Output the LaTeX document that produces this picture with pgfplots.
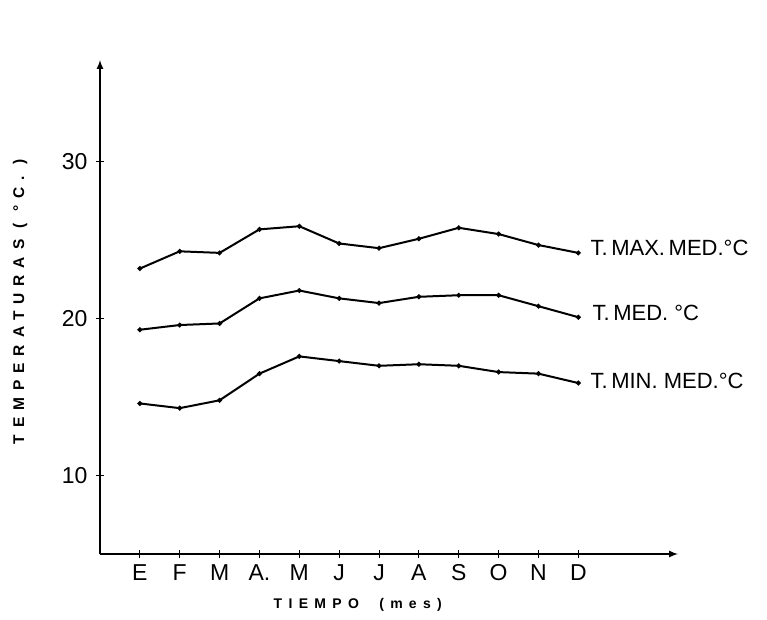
\documentclass[border=0pt]{standalone}
\usepackage{fontspec}
\setmainfont{Liberation Sans}
\newfontfamily\spaced[LetterSpace=45]{Liberation Sans}
\usepackage{pgfplots}
\pgfplotsset{compat=1.18}
\begin{document}
\begin{tikzpicture}
\path[use as bounding box] (-100pt,-66pt) rectangle (667pt,554pt);
\begin{axis}[
  at={(0,0)}, anchor=south west,
  scale only axis, width=578pt, height=494pt,
  xmin=-1, xmax=13.5, ymin=5, ymax=36.5,
  axis x line=bottom, axis y line=left,
  axis line style={line width=2pt, -latex},
  xtick={0,...,11},
  xticklabels={E,F,M,A.,M,J,J,A,S,O,N,D},
  ytick={10,20,30},
  tick style={black, line width=1pt},
  major tick length=8pt, tick align=center,
  /pgf/number format/assume math mode=true,
  tick label style={font=\fontsize{23}{23}\selectfont},
  xticklabel style={yshift=-3pt},
  yticklabel style={xshift=-5pt},
  xlabel={\spaced\bfseries TIEMPO\ \ (mes)},
  xlabel style={at={(axis description cs:0.446,-0.103)}, anchor=center, font=\fontsize{14}{14}\selectfont},
  ylabel={\spaced\bfseries TEMPERATURAS ( °C. )},
  ylabel style={at={(axis description cs:-0.138,0.51)}, anchor=center, font=\fontsize{15.5}{15.5}\selectfont},
  clip=false,
]
\addplot[black, line width=2pt, mark=*, mark size=1.3pt] coordinates {
(0,23.2) (1,24.3) (2,24.2) (3,25.7) (4,25.9) (5,24.8) (6,24.5) (7,25.1) (8,25.8) (9,25.4) (10,24.7) (11,24.2)};
\addplot[black, line width=2pt, mark=*, mark size=1.3pt] coordinates {
(0,19.3) (1,19.6) (2,19.7) (3,21.3) (4,21.8) (5,21.3) (6,21.0) (7,21.4) (8,21.5) (9,21.5) (10,20.8) (11,20.1)};
\addplot[black, line width=2pt, mark=*, mark size=1.3pt] coordinates {
(0,14.6) (1,14.3) (2,14.8) (3,16.5) (4,17.6) (5,17.3) (6,17.0) (7,17.1) (8,17.0) (9,16.6) (10,16.5) (11,15.9)};
\node[anchor=west, font=\fontsize{22}{22}\selectfont, inner sep=0pt] at (axis cs:11.3,24.5) {T.\,MAX.\,MED.°C};
\node[anchor=west, font=\fontsize{22}{22}\selectfont, inner sep=0pt] at (axis cs:11.35,20.4) {T.\,MED.\ °C};
\node[anchor=west, font=\fontsize{22}{22}\selectfont, inner sep=0pt] at (axis cs:11.3,16.05) {T.\,MIN.\ MED.°C};
\end{axis}
\end{tikzpicture}
\end{document}
